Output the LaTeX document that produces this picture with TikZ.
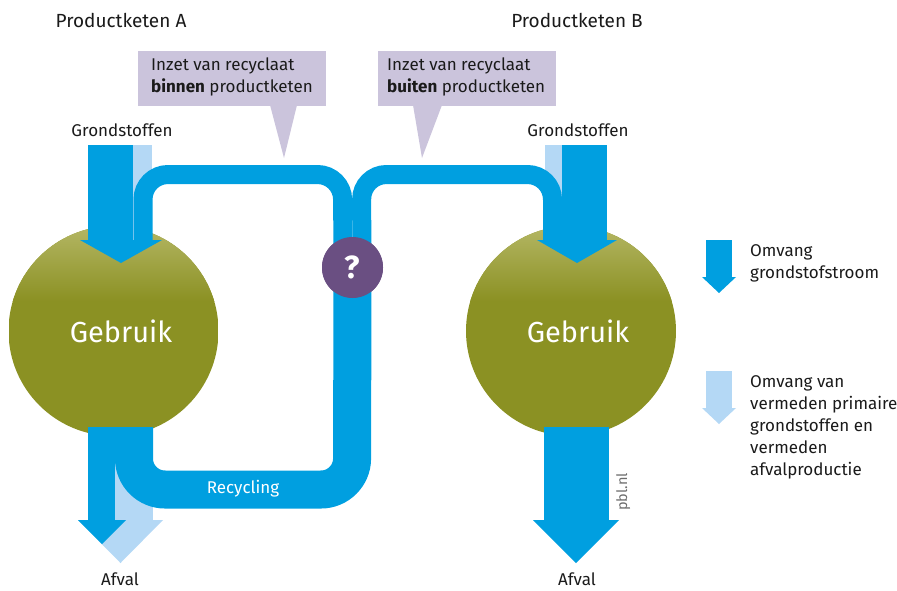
\documentclass[tikz,border=0pt]{standalone}
\usepackage{fontspec}
\setmainfont{Fira Sans}
\definecolor{pblblue}{RGB}{0,159,224}
\definecolor{pbllight}{RGB}{180,216,245}
\definecolor{olivedark}{RGB}{139,145,35}
\definecolor{olivelight}{RGB}{180,182,100}
\definecolor{qpurple}{RGB}{106,79,130}
\definecolor{calloutfill}{RGB}{203,196,220}
\definecolor{txt}{RGB}{26,26,26}
\begin{document}
\begin{tikzpicture}[x=1pt,y=-1pt,
  lbl/.style={font=\fontsize{17}{22}\selectfont, text=txt, inner sep=0pt},
  usecircle/.style={circle, minimum size=210pt, inner sep=0pt,
    path picture={
      \fill[olivedark] (path picture bounding box.south west) rectangle (path picture bounding box.north east);
      \shade[top color=olivelight, bottom color=olivedark] (path picture bounding box.north west) rectangle ([yshift=-75pt]path picture bounding box.north east);
    }},
  usetext/.style={font=\fontsize{29}{32}\selectfont, text=white, inner sep=0pt},
  tube/.style={draw=pblblue, line width=19pt, rounded corners=25pt},
  bigtube/.style={draw=pblblue, line width=38pt, rounded corners=31pt},
  flow/.style={fill=pblblue},
  saved/.style={fill=pbllight},
  bubble/.style={fill=calloutfill},
]
\useasboundingbox (0,0) rectangle (897,590);

% titles
\node[lbl, font=\fontsize{19}{22}\selectfont, anchor=base] (titA) at (121,27) {Productketen A};
\node[lbl, font=\fontsize{19}{22}\selectfont, anchor=base] (titB) at (577,27) {Productketen B};

% callouts
\fill[bubble] (138,51) rectangle (326,106);
\fill[bubble] (270,105) -- (297,105) -- (284,158) -- cycle;
\node[lbl, anchor=north west, align=left] (calA) at (151,58) {Inzet van recyclaat\\\textbf{binnen} productketen};
\fill[bubble] (378,51) rectangle (556,106);
\fill[bubble] (413,105) -- (442,105) -- (422,158) -- cycle;
\node[lbl, anchor=north west, align=left] (calB) at (387,58) {Inzet van recyclaat\\\textbf{buiten} productketen};

% Grondstoffen labels
\node[lbl, anchor=base] (grA) at (122,136) {Grondstoffen};
\node[lbl, anchor=base] (grB) at (578,136) {Grondstoffen};

% use circles
\node[usecircle] (useA) at (113.5,331) {};
\node[usecircle] (useB) at (571,331) {};

% input arrows
\fill[saved] (133,145) rectangle (152,240);
\fill[flow] (88,145) rectangle (133,240);
\fill[flow] (80,240) -- (162,240) -- (121,263) -- cycle;
\fill[saved] (545,145) rectangle (562,240);
\fill[flow] (562,145) rectangle (607,240);
\fill[flow] (537,240) -- (617,240) -- (577,263) -- cycle;

% avoided waste (light) arrow A
\fill[saved] (88,427) rectangle (153,520);
\fill[saved] (78,520) -- (163,520) -- (120.5,563) -- cycle;

% tubes
\coordinate (lA1) at (134,427);
\coordinate (lA2) at (134,489.5);
\coordinate (lA3) at (352,489.5);
\node[circle, fill=qpurple, minimum size=61pt, inner sep=0pt] (q) at (352.5,267.5) {};
\draw[bigtube] (lA1) -- (lA2) -- (lA3) -- (q.center);
\coordinate (tA1) at (342.5,174.5);
\coordinate (tA2) at (143,174.5);
\coordinate (tA3) at (143,240);
\draw[tube] ([xshift=-9.5pt]q.center) -- (tA1) -- (tA2) -- (tA3);
\coordinate (tB1) at (361.5,174.5);
\coordinate (tB2) at (552.5,174.5);
\coordinate (tB3) at (552.5,240);
\draw[tube] ([xshift=9.5pt]q.center) -- (tB1) -- (tB2) -- (tB3);
\node[circle, fill=qpurple, minimum size=61pt, inner sep=0pt, text=white, font=\fontsize{32}{34}\selectfont\bfseries] at (q) {?};

\node[lbl, text=white, anchor=base] (rec) at (243,493) {Recycling};

% waste arrows
\fill[flow] (88,427) rectangle (115,520);
\fill[flow] (78,520) -- (126,520) -- (102,544) -- cycle;
\fill[flow] (544,427) rectangle (609,520);
\fill[flow] (533,520) -- (619,520) -- (576,563) -- cycle;

\node[usetext] (gebA) at (121,331) {Gebruik};
\node[usetext] (gebB) at (578,331) {Gebruik};

\node[lbl, anchor=base] (afA) at (120,585) {Afval};
\node[lbl, anchor=base] (afB) at (577,585) {Afval};
\node[lbl, text=gray!85!black, font=\fontsize{14.5}{16}\selectfont, rotate=90, anchor=base] (pbl) at (627,492) {pbl.nl};

% legend
\fill[flow] (706,240) rectangle (732,277);
\fill[flow] (702,277) -- (736,277) -- (719,293) -- cycle;
\node[lbl, anchor=north west, align=left] (legA) at (750,244) {Omvang\\grondstofstroom};
\fill[saved] (706,371) rectangle (732,408);
\fill[saved] (702,408) -- (736,408) -- (719,424) -- cycle;
\node[lbl, anchor=north west, align=left] (legB) at (750,375) {Omvang van\\vermeden primaire\\grondstoffen en\\vermeden\\afvalproductie};
\end{tikzpicture}
\end{document}
